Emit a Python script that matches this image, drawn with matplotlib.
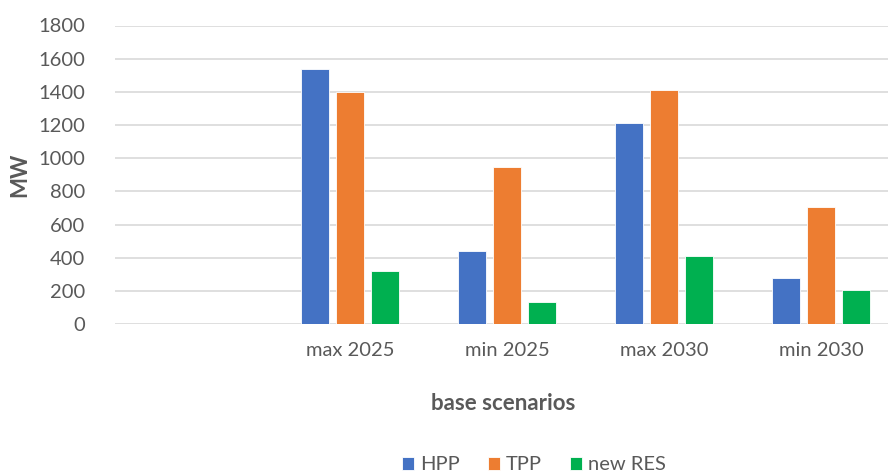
import matplotlib.pyplot as plt
import numpy as np

plt.rcParams['font.family'] = ['Lato', 'DejaVu Sans']

scenarios = ['', 'max 2025', 'min 2025', 'max 2030', 'min 2030']
hpp = [0, 1535, 438, 1210, 275]
tpp = [0, 1397, 945, 1410, 708]
new_res = [0, 321, 134, 408, 205]

series = [('HPP', hpp, '#4472C4'), ('TPP', tpp, '#ED7D31'), ('new RES', new_res, '#00B050')]

fig = plt.figure(figsize=(8.88, 4.76), dpi=100)
ax = fig.add_axes([114.5 / 888, 152 / 476, 1 - 114.5 / 888, 298.5 / 476])

x = np.arange(len(scenarios))
width = 0.175
step = 0.223
for i, (name, vals, col) in enumerate(series):
    ax.bar(x + (i - 1) * step, vals, width, color=col, label=name,
           edgecolor='white', linewidth=0.6, zorder=3)

ax.set_xlim(-0.5, 4.427)
ax.set_ylim(0, 1800)
ax.set_yticks(range(0, 1801, 200))
ax.set_xticks(x)
ax.set_xticklabels(scenarios)
ax.grid(axis='y', color='#d9d9d9', linewidth=1.2, zorder=0)
for s in ax.spines.values():
    s.set_visible(False)
ax.tick_params(length=0, labelsize=14.5, labelcolor='#595959')
ax.tick_params(axis='y', pad=21)
ax.tick_params(axis='x', pad=13)

ax.set_ylabel('MW', fontsize=16, fontweight='bold', color='#595959', labelpad=6)
fig.text(503 / 888, 1 - 404 / 476, 'base scenarios', fontsize=16, fontweight='bold',
         color='#595959', ha='center', va='center')

fig.legend(loc='center', bbox_to_anchor=(534 / 888, 1 - 465 / 476), ncol=3, frameon=False,
           fontsize=14.5, labelcolor='#595959', handlelength=0.6, handleheight=0.6,
           handletextpad=0.3, columnspacing=1.4)

fig.savefig('out.png', dpi=100)
